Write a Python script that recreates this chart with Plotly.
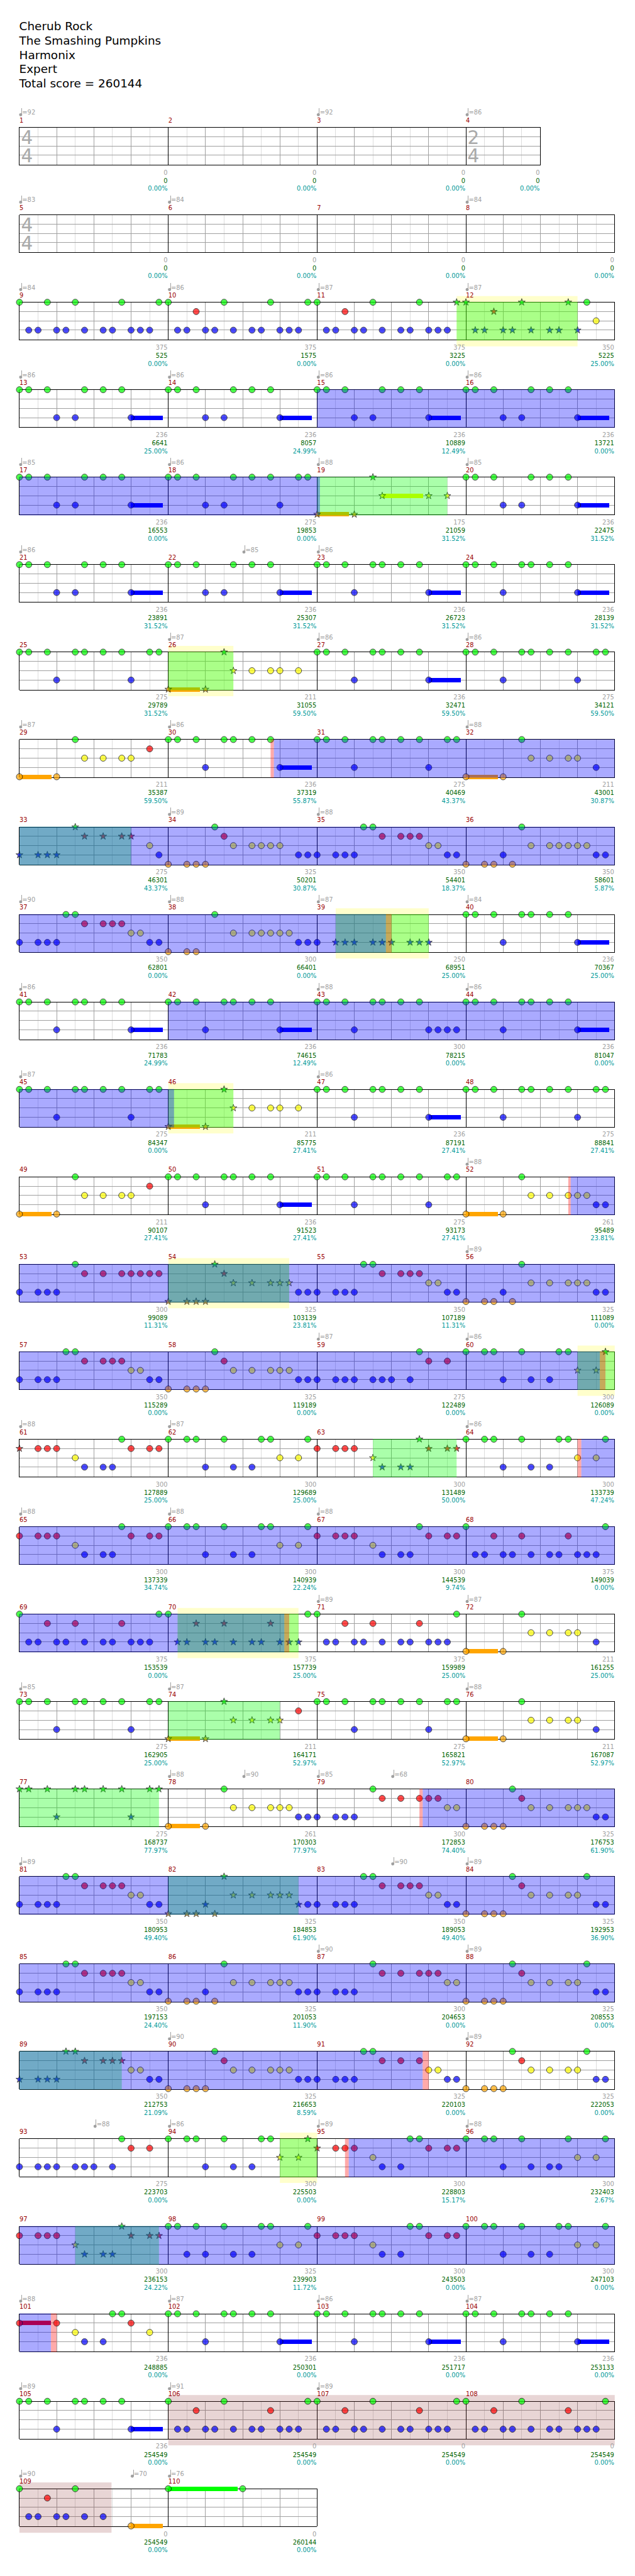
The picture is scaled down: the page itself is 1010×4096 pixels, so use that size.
import plotly.graph_objects as go

# ---------- text ----------
title_lines = ["Cherub Rock", "The Smashing Pumpkins", "Harmonix", "Expert", "Total score = 260144"]

# ---------- per-measure labels (measures 1..110) ----------
measure_points = [0,0,0,0, 0,0,0,0,
    375,375,375,350, 236,236,236,236, 236,275,175,236, 236,236,236,236,
    275,211,236,275, 211,236,275,211, 275,325,350,350, 350,300,250,236,
    236,236,300,236, 275,211,236,275, 211,236,275,261, 300,325,350,325,
    350,325,275,300, 300,300,300,300, 300,300,300,375, 375,375,375,211,
    275,211,275,211, 275,261,300,325, 350,325,350,325, 350,325,300,325,
    350,325,325,325, 275,300,300,300, 300,325,300,300, 236,236,236,236,
    236,0,0,0, 0,0]
running_total = [0,0,0,0, 0,0,0,0,
    525,1575,3225,5225, 6641,8057,10889,13721, 16553,19853,21059,22475,
    23891,25307,26723,28139, 29789,31055,32471,34121, 35387,37319,40469,43001,
    46301,50201,54401,58601, 62801,66401,68951,70367, 71783,74615,78215,81047,
    84347,85775,87191,88841, 90107,91523,93173,95489, 99089,103139,107189,111089,
    115289,119189,122489,126089, 127889,129689,131489,133739, 137339,140939,144539,149039,
    153539,157739,159989,161255, 162905,164171,165821,167087, 168737,170303,172853,176753,
    180953,184853,189053,192953, 197153,201053,204653,208553, 212753,216653,220103,222053,
    223703,225503,228803,232403, 236153,239903,243503,247103, 248885,250301,251717,253133,
    254549,254549,254549,254549, 254549,260144]
percent = ["0.00"]*8 + [
    "0.00","0.00","0.00","25.00", "25.00","24.99","12.49","0.00", "0.00","0.00","31.52","31.52",
    "31.52","31.52","31.52","31.52", "31.52","59.50","59.50","59.50", "59.50","55.87","43.37","30.87",
    "43.37","30.87","18.37","5.87", "0.00","0.00","25.00","25.00", "24.99","12.49","0.00","0.00",
    "0.00","27.41","27.41","27.41", "27.41","27.41","27.41","23.81", "11.31","23.81","11.31","0.00",
    "0.00","0.00","0.00","0.00", "25.00","25.00","50.00","47.24", "34.74","22.24","9.74","0.00",
    "0.00","25.00","25.00","25.00", "25.00","52.97","52.97","52.97", "77.97","77.97","74.40","61.90",
    "49.40","61.90","49.40","36.90", "24.40","11.90","0.00","0.00", "21.09","8.59","0.00","0.00",
    "0.00","0.00","15.17","2.67", "24.22","11.72","0.00","0.00", "0.00","0.00","0.00","0.00",
    "0.00","0.00","0.00","0.00", "0.00","0.00"]

# (measure, sixteenth, bpm)
tempos = [(1,0,92),(3,0,92),(4,0,86),(5,0,83),(6,0,84),(8,0,84),(9,0,84),(10,0,86),(11,0,87),(12,0,87),
    (13,0,86),(14,0,86),(15,0,86),(16,0,86),(17,0,85),(18,0,86),(19,0,88),(20,0,85),(21,0,86),(22,8,85),
    (23,0,86),(26,0,87),(27,0,86),(28,0,86),(29,0,87),(30,0,86),(32,0,88),(34,0,89),(35,0,88),(37,0,90),
    (38,0,88),(39,0,87),(40,0,84),(41,0,86),(43,0,88),(44,0,86),(45,0,87),(47,0,86),(52,0,88),(56,0,89),
    (59,0,87),(60,0,86),(61,0,88),(62,0,87),(64,0,86),(65,0,88),(66,0,88),(67,0,88),(71,0,89),(72,0,87),
    (73,0,85),(74,0,87),(76,0,88),(78,0,88),(78,8,90),(79,0,85),(79,8,68),(81,0,89),(83,8,90),(84,0,89),
    (87,0,90),(88,0,89),(90,0,90),(92,0,89),(93,8,88),(94,0,86),(95,0,89),(96,0,88),(101,0,88),(102,0,87),
    (103,0,86),(104,0,87),(105,0,89),(106,0,91),(107,0,89),(109,0,90),(109,12,70),(110,0,76)]

# (measure, upper, lower)
time_signatures = [(1,"4","4"),(4,"2","4"),(5,"4","4")]
short_measures = {4: 8}   # measure -> length in sixteenths (others 16)

# ---------- notes: measure -> sixteenth positions ----------
green_notes = {9:[0,3,6,11,15],10:[0,6,11,15],11:[0,6,11,15],12:[0,6,11,13],
    13:[0,1,3,7,9,11],14:[0,1,3,7,9,11],15:[0,1,3,7,9,11],16:[0,1,3,7,9,11],
    17:[0,1,3,7,9,11],18:[0,1,3,7,9,11,14,15],19:[6],20:[0,1,3,7,9,11],
    21:[0,1,3,7,9,11],22:[0,1,3,7,9,11],23:[0,1,3,6,7,9,11],24:[0,1,3,6,7,9,11],
    25:[0,1,3,6,7,9,11,14,15],26:[6],27:[0,1,3,6,7,9,11],28:[0,1,3,6,7,9,11,14,15],
    29:[6],30:[0,1,3,6,7,9,11],31:[0,1,3,6,7,9,11,14,15],32:[6],
    33:[6],34:[5],35:[5,6],36:[6],37:[5,6],38:[5],40:[0,1,3,6,7,9,11],
    41:[0,1,3,6,7,9,11],42:[0,1,3,6,7,9,11],43:[0,1,3,6,7,9,11],44:[0,1,3,6,7,9,11],
    45:[0,1,3,6,7,9,11,14,15],46:[6],47:[0,1,3,6,7,9,11],48:[0,1,3,6,7,9,11,14,15],
    49:[6],50:[0,1,3,6,7,9,11],51:[0,1,3,6,7,9,11,14,15],52:[6],
    53:[6],54:[5],55:[5,6],56:[6],57:[5,6],58:[5],59:[11],60:[0,2,3,6,10,11,15],
    61:[11],62:[0,2,3,6,10,11,15],63:[11],64:[0,2,3,6,10,11,15],
    65:[11],66:[0,2,3,6,10,11,15],67:[11],68:[0,15],69:[0,15],70:[0,15],71:[0,15],72:[6],
    73:[0,1,3,6,7,9,11,14,15],74:[6],75:[0,1,3,6,7,9,11,14,15],76:[6],
    77:[0,1,3,6,7,9,11,14,15],78:[6],79:[6],80:[5],81:[5,6],82:[6],83:[5,6],84:[5,13],
    85:[5,6],86:[6],87:[6],88:[5,13],89:[5,6],90:[5],91:[5,6],92:[5,13],
    93:[11],94:[0,2,3,6,10,11,15],95:[10,11],96:[0,2,3,6,11,15],
    97:[11],98:[0,1,3,6,10,11,15],99:[10,11],100:[0,2,3,6,10,11,15],
    101:[10,11],102:[0,1,3,6,7,9,11],103:[0,1,3,6,7,9,11],104:[0,1,3,6,7,9,11],
    105:[0,1,3,6,7,9,11],106:[0,6,15],107:[0,6,15],108:[0,6,15],109:[0,6],110:[0,8]}
red_notes = {10:[3],11:[3],12:[3],29:[14],33:[7,9,11,12],34:[6],35:[7,9,10,11],37:[7,9,10,11],
    49:[14],53:[7,9,11,12,13,14,15],54:[6],55:[7,9,10,11],57:[7,9,10,11],58:[6],59:[12,14],
    61:[0,2,3,4,12,14,15],63:[0,2,3,4,12,14,15],65:[0,2,3,4,12,14,15],67:[0,2,3,4,12,14,15],
    68:[3,6,11],69:[3,6,11],70:[3,6,11],71:[3,6,11],74:[14],79:[7,9,11,12,13],80:[6],
    81:[7,9,10,11],83:[7,9,10,11],84:[6],85:[7,9,10,11],87:[7,9,11,12,13],88:[6],
    89:[7,9,10,11],90:[6],91:[7,9,11],92:[6],93:[12,14],95:[0,2,3,4,12,14,15],
    97:[0,2,3,4,12,14,15],99:[0,2,3,4,12,14,15],101:[0,4,12],106:[3,11],107:[3,11],108:[3,11],109:[3]}
yellow_notes = {12:[14],19:[7,12,14],26:[7,9,11,12,14],29:[7,9,11,12],32:[7,9,11,12],33:[14],
    34:[7,9,10,11,12],35:[12,13],36:[7,9,10,11,12,13],37:[12,13],38:[7,9,10,11,12,13],
    46:[7,9,11,12,14],49:[7,9,11,12],52:[7,9,11,12,13],54:[7,9,11,12,13],55:[12,13],
    56:[7,9,11,12,13],57:[12,13],58:[7,9,11,12,13],60:[12,14],61:[6],62:[12,14],63:[6],
    64:[12,14],65:[6],66:[12,14],67:[6],72:[7,9,11,12],74:[7,9,11,12],76:[7,9,11,12],
    78:[7,9,11,12,13],79:[14,15],80:[7,9,11,12,13],81:[12,13],82:[7,9,11,12,13],83:[12,13],
    84:[7,9,11,12],85:[12,13],86:[7,9,11,12,13],87:[14,15],88:[7,9,11,12],89:[12,13],
    90:[7,9,11,12,13],91:[12,13],92:[7,9,11,12],94:[12,14],95:[6],96:[12,14],97:[6],
    98:[12,14],99:[6],100:[12,14],101:[6,14]}
blue_notes = {9:[1,2,4,5,7,9,10,12,13,14],10:[1,2,4,5,7,9,10,12,13,14],11:[1,2,4,5,7,9,10,12,13,14],
    12:[1,2,4,5,7,9,10,12],13:[4,6,12],14:[4,6,12],15:[4,6,12],16:[4,6,12],17:[4,6,12],18:[4,6,12],
    20:[4,6,12],21:[4,6,12],22:[4,6,12],23:[4,12],24:[4,12],25:[4,12],27:[4,12],28:[4,12],
    30:[4,12],31:[4,12],32:[14],33:[0,2,3,4,15],34:[14,15],35:[0,2,3,4,14,15],36:[4,14,15],
    37:[0,2,3,4,14,15],38:[14,15],39:[0,2,3,4,6,7,8,10,11,12],40:[4,12],41:[4,12],42:[4,12],
    43:[4,12,13,14,15],44:[4,12],45:[4,12],47:[4,12],48:[4,12],50:[4,12],51:[4,12],52:[14,15],
    53:[0,2,3,4],54:[14,15],55:[0,2,3,4,14,15],56:[4,14,15],57:[0,2,3,4,14,15],58:[14,15],
    59:[0,2,3,4,6,7,8,10],60:[4,7,9],61:[7,9,10],62:[4,7,9],63:[7,9,10],64:[4,7,9],65:[7,9,10],
    66:[4,7,9],67:[7,9,10],68:[1,2,4,5,7,9,10,12,13,14],69:[1,2,4,5,7,9,10,12,13,14],
    70:[1,2,4,5,7,9,10,12,13,14],71:[1,2,4,5,7,9,10,12,13,14],72:[14],73:[4,12],75:[4,12],76:[14],
    77:[4,12],78:[14,15],79:[0,2,3,4],80:[14,15],81:[0,2,3,4,14,15],82:[4,14,15],83:[0,2,3,4,14,15],
    84:[14,15],85:[0,2,3,4,14,15],86:[4,14,15],87:[0,2,3,4],88:[14,15],89:[0,2,3,4,14,15],90:[14,15],
    91:[0,2,3,4,14,15],92:[14,15],93:[0,2,3,4,6,7,8,10],94:[4,7,9],95:[7,9],96:[4,7,9,10],
    97:[7,9,10],98:[2,4,7,9],99:[7,9],100:[4,7,9],101:[7,9],102:[4,12],103:[4,12],104:[4,12],
    105:[4,12],106:[1,2,4,5,7,9,10,12,13,14],107:[1,2,4,5,7,9,10,12,13,14],
    108:[1,2,4,5,7,9,10,12,13,14],109:[1,2,4,5,7,9]}
orange_notes = {19:[0,4],26:[0,4],29:[0,4],32:[0,4],34:[0,2,3,4],36:[0,2,3,5],38:[0,2,3],46:[0,4],
    49:[0,4],52:[0,4],54:[0,2,3,4],56:[0,2,3,5],58:[0,2,3,4],72:[0,4],74:[0,4],76:[0,4],78:[0,4],
    80:[0,2,3,4],82:[0,2,3,5],84:[0,2,3,4],86:[0,2,3,5],88:[0,2,3,4],90:[0,2,3,4],92:[0,2,3,4],109:[12]}

# (measure, sixteenth, fret 0-4, end sixteenth)
sustains = [(m,12,3,15.43) for m in (13,14,15,16,17,20,21,22,23,24,27,30,40,41,42,44,47,50,102,103,104,105)] + \
    [(m,0,4,3.43) for m in (19,26,29,32,46,49,52,72,74,76,78)] + \
    [(19,7,2,11.43),(101,0,1,3.39),(109,12,4,15.43),(110,0,0,7.43)]

# ---------- highlighted spans: (measure, sixteenth, measure, sixteenth) ----------
star_spans = [(11,15,12,12),(19,0,19,14),(26,0,26,7),(33,0,33,12),(39,2,39,12),(46,0,46,7),(54,0,54,13),
    (60,12,61,0),(63,6,63,15),(70,1,70,14),(74,0,74,12),(77,0,77,15),(82,0,82,14),(89,0,89,11),
    (94,12,95,0),(97,6,97,15)]
tall_spans = [(11,15,12,12),(26,0,26,7),(39,2,39,12),(46,0,46,7),(54,0,54,13),(60,12,61,0),(70,1,70,14),(94,12,95,0)]
overdrive_spans = [(15,0,19,0.3),(30,11.35,39,7.4),(42,0,46,0.62),(52,11.26,60,14.4),(64,12.4,70,12.48),
    (79,11.35,91,11.35),(95,3.4,101,3.39)]
squeeze_spans = [(30,11,30,11.35),(39,7.4,39,8),(52,11,52,11.26),(60,14.4,60,15),(64,12,64,12.4),
    (70,12.48,70,13),(79,11,79,11.35),(91,11.35,91,12),(95,3,95,3.4),(101,3.39,101,4)]
solo_spans = [(106,0,108,16),(109,0,109,9.9)]

# ---------- page geometry (reference pixels; axes map them to the window) ----------
REF_W, REF_H = 1024, 4153
WIN_W, WIN_H = 1010, 4096
S = WIN_W / REF_W
U = 15.0            # reference px per sixteenth / per fret
LEFT, TOP, PITCH = 31.35, 205.3, 141.0
N_MEASURES = 110

def mrow(m): return (m - 1) // 4
def mlen(m): return short_measures.get(m, 16)
def mx(m):
    first = mrow(m) * 4 + 1
    return sum(mlen(k) for k in range(first, m))
def row_end(r):
    last = min(r * 4 + 4, N_MEASURES)
    return mx(last) + mlen(last)
def yy(r, px): return (r * PITCH + px) / U       # px below staff top of row r

xaxis_range = [-LEFT / U, (REF_W - LEFT) / U]
yaxis_range = [(REF_H - TOP) / U, -TOP / U]

def polyline(segs):
    xs, ys = [], []
    for x0, y0, x1, y1 in segs:
        xs += [x0, x1, None]; ys += [y0, y1, None]
    return xs, ys

fig = go.Figure()

def add_lines(segs, color, width):
    xs, ys = polyline(segs)
    fig.add_trace(go.Scatter(x=xs, y=ys, mode="lines", line=dict(color=color, width=width),
                             hoverinfo="skip", connectgaps=False))

# grid
light, gray, black = [], [], []
for m in range(1, N_MEASURES + 1):
    r = mrow(m); x0 = mx(m)
    for k in range(0, mlen(m), 2):
        seg = (x0 + k, yy(r, 0), x0 + k, yy(r, 61))
        if k == 0: black.append(seg)
        elif k % 4 == 0: gray.append(seg)
        else: light.append(seg)
for r in range(mrow(N_MEASURES) + 1):
    xe = row_end(r)
    for px in (15, 30, 45):
        gray.append((0, yy(r, px), xe, yy(r, px)))
    black += [(0, yy(r, 0), xe, yy(r, 0)), (0, yy(r, 61), xe, yy(r, 61)), (xe, yy(r, 0), xe, yy(r, 61))]
add_lines(light, "#DDDDDD", 1)
add_lines(gray, "#A0A0A0", 1)
add_lines(black, "#000000", 1)

def span_rects(spans, top, bottom):
    xs, ys = [], []
    for m1, p1, m2, p2 in spans:
        for r in range(mrow(m1), mrow(m2) + 1):
            a = mx(m1) + p1 if r == mrow(m1) else 0
            b = mx(m2) + p2 if r == mrow(m2) else row_end(r)
            if b <= a: continue
            t, u = yy(r, top), yy(r, bottom)
            xs += [a, b, b, a, a, None]; ys += [t, t, u, u, t, None]
    return xs, ys

def add_fill(spans, color, top, bottom):
    xs, ys = span_rects(spans, top, bottom)
    fig.add_trace(go.Scatter(x=xs, y=ys, mode="lines", fill="toself", fillcolor=color,
                             line=dict(width=0, color=color), hoverinfo="skip"))

add_fill(tall_spans, "rgba(255,255,0,0.2)", -10, 71)
add_fill(solo_spans, "rgba(140,45,45,0.2)", -10, 71)

# notes
fret_colors = ["#00FF00", "#FF0000", "#FFFF00", "#0000FF", "#FFA500"]
def fret_y(r, f): return yy(r, f * 15)

for f, col in enumerate(fret_colors):
    segs = []
    for m, p, fr, e in sustains:
        if fr == f:
            r = mrow(m)
            segs.append((mx(m) + p, fret_y(r, f), mx(m) + e, fret_y(r, f)))
    if segs:
        add_lines(segs, col, 7 * S)

def is_star(m, p):
    for m1, p1, m2, p2 in star_spans:
        if (m1, p1) <= (m, p) <= (m2, p2):
            return True
    return False

nx, ny, nc, ns, nz = [], [], [], [], []
for f, table in enumerate([green_notes, red_notes, yellow_notes, blue_notes, orange_notes]):
    for m, plist in table.items():
        for p in plist:
            star = is_star(m, p)
            nx.append(mx(m) + p); ny.append(fret_y(mrow(m), f)); nc.append(fret_colors[f])
            ns.append("star" if star else "circle")
            nz.append((8.5 if star else 10) * S)
fig.add_trace(go.Scatter(x=nx, y=ny, mode="markers", hoverinfo="skip",
    marker=dict(color=nc, symbol=ns, size=nz, line=dict(color="#000000", width=1))))

# overlays sit on top of the notes
add_fill(star_spans, "rgba(0,255,0,0.3333)", -0.5, 61.5)
add_fill(overdrive_spans, "rgba(0,0,255,0.3333)", -0.5, 61.5)
add_fill(squeeze_spans, "rgba(255,0,0,0.3333)", -0.5, 61.5)

# text helpers
FONT = "DejaVu Sans"
def add_text(xs, ys, texts, size, color, pos):
    fig.add_trace(go.Scatter(x=xs, y=ys, text=texts, mode="text", textposition=pos, hoverinfo="skip",
                             textfont=dict(family=FONT, size=size * S, color=color)))
def centre(px_y, size):      # plotly places "middle" text slightly high; compensate
    return px_y + 0.115 * size

# title
add_text([-LEFT / U + 31 / U] * 5, [(centre(42.3 + 23 * i, 18.67) - TOP) / U for i in range(5)],
         title_lines, 18.67, "#000000", "middle right")

# measure numbers
add_text([mx(m) for m in range(1, N_MEASURES + 1)],
         [yy(mrow(m), centre(-11.6, 10)) for m in range(1, N_MEASURES + 1)],
         [str(m) for m in range(1, N_MEASURES + 1)], 10, "#990000", "middle right")

# labels below each measure
lab_x = [mx(m) + mlen(m) - 1 / U for m in range(1, N_MEASURES + 1)]
def lab_y(px): return [yy(mrow(m), centre(px, 10)) for m in range(1, N_MEASURES + 1)]
add_text(lab_x, lab_y(72.7), [str(v) for v in measure_points], 10, "#A0A0A0", "middle left")
add_text(lab_x, lab_y(86.0), [str(v) for v in running_total], 10, "#006400", "middle left")
add_text(lab_x, lab_y(98.7), [p + "%" for p in percent], 10, "#009999", "middle left")

# tempo marks
stem = []
hx, hy, tx, ty, tt = [], [], [], [], []
for m, p, bpm in tempos:
    r = mrow(m); x = mx(m) + p
    stem.append((x + 3.6 / U, yy(r, -31), x + 3.6 / U, yy(r, -20.5)))
    hx.append(x + 2 / U); hy.append(yy(r, -20.3))
    tx.append(x + 4.5 / U); ty.append(yy(r, centre(-24, 10))); tt.append("=" + str(bpm))
add_lines(stem, "#A0A0A0", 1)
fig.add_trace(go.Scatter(x=hx, y=hy, mode="markers", hoverinfo="skip",
    marker=dict(color="#A0A0A0", symbol="circle", size=5 * S, line=dict(width=0))))
add_text(tx, ty, tt, 10, "#A0A0A0", "middle right")

# time signatures
sx, sy, st = [], [], []
for m, up, lo in time_signatures:
    r = mrow(m); x = mx(m) + 2.5 / U
    sx += [x, x]; sy += [yy(r, centre(15.7, 30)), yy(r, centre(45.4, 30))]; st += [up, lo]
add_text(sx, sy, st, 30, "#AAAAAA", "middle right")

fig.update_layout(
    width=WIN_W, height=WIN_H, autosize=False,
    margin=dict(l=0, r=0, t=0, b=0, pad=0),
    paper_bgcolor="#FFFFFF", plot_bgcolor="#FFFFFF", showlegend=False, hovermode=False,
    xaxis=dict(range=xaxis_range, visible=False, fixedrange=True),
    yaxis=dict(range=yaxis_range, visible=False, fixedrange=True),
)

post = """
document.documentElement.style.margin='0';
document.body.style.margin='0';
document.body.style.overflow='hidden';
var st=document.createElement('style');
st.textContent='.scatterlayer path.js-line{shape-rendering:crispEdges}';
document.head.appendChild(st);
"""
fig.write_html("out.html", config={"displayModeBar": False, "staticPlot": True}, post_script=post)
